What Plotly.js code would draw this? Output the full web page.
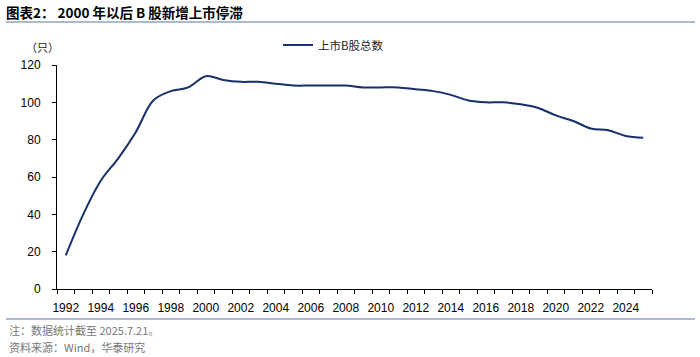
<!DOCTYPE html>
<html>
<head>
<meta charset="utf-8">
<script src="https://cdn.plot.ly/plotly-3.0.1.min.js"></script>
<style>html,body{margin:0;padding:0;background:#fff;}#chart{width:700px;height:357px;}</style>
</head>
<body>
<div id="chart"></div>
<script>
const years = [1992,1993,1994,1995,1996,1997,1998,1999,2000,2001,2002,2003,2004,2005,2006,2007,2008,2009,2010,2011,2012,2013,2014,2015,2016,2017,2018,2019,2020,2021,2022,2023,2024,2025];
const bShareCount = [18,40,58,70,84,101,106,108,114,112,111,111,110,109,109,109,109,108,108,108,107,106,104,101,100,100,99,97,93,90,86,85,82,81];
const tickYears = [1992,1994,1996,1998,2000,2002,2004,2006,2008,2010,2012,2014,2016,2018,2020,2022,2024];
const seriesName = '上市B股总数';
const titleText = '<b>图表2： 2000 年以后 B 股新增上市停滞</b>';
const unitText = '（只）';
const noteText = '注：数据统计截至 2025.7.21。';
const sourceText = '资料来源：Wind，华泰研究';

const W = 700, H = 357;
const L = 57, R = 652, T = 65, B = 289;
const pw = R - L, ph = B - T;
const px = x => (x - L) / pw;
const py = y => (B - y) / ph;

const boundaries = years.map(y => y - 0.5).concat([years[years.length - 1] + 0.5]);
const font = 'Liberation Sans, Arial, Noto Sans CJK SC, sans-serif';
const cjk = 'Noto Sans CJK SC, Liberation Sans, sans-serif';

const trace = {
  x: years, y: bShareCount, type: 'scatter', mode: 'lines', name: seriesName,
  line: {color: '#15306B', width: 2, shape: 'spline', smoothing: 1},
  hoverinfo: 'x+y'
};

const layout = {
  width: W, height: H,
  margin: {l: L, r: W - R, t: T, b: H - B, pad: 0},
  paper_bgcolor: '#fff', plot_bgcolor: '#fff',
  font: {family: font, size: 12, color: '#000'},
  showlegend: true,
  legend: {orientation: 'h', x: px(278), y: py(45), xanchor: 'left', yanchor: 'middle',
    font: {family: cjk, size: 11.5, color: '#222'}, itemwidth: 30, bgcolor: 'rgba(0,0,0,0)'},
  title: {text: titleText, xref: 'container', yref: 'container', x: 6 / W, xanchor: 'left',
    y: 1 - 13 / H, yanchor: 'middle', font: {family: cjk, size: 13.5, color: '#000'}},
  xaxis: {
    range: [years[0] - 0.5, years[years.length - 1] + 0.5],
    tickmode: 'array', tickvals: tickYears, ticktext: tickYears.map(String),
    ticks: '', showgrid: false, zeroline: false,
    showline: true, linecolor: '#000', linewidth: 1,
    ticklabelstandoff: 8,
    tickfont: {family: font, size: 12, color: '#000'},
    minor: {tickmode: 'array', tickvals: boundaries, ticks: 'outside', ticklen: 4, tickcolor: '#000', tickwidth: 1, showgrid: false},
    fixedrange: true
  },
  yaxis: {
    range: [0, 120], tickmode: 'linear', tick0: 0, dtick: 20,
    ticks: 'outside', ticklen: 4, tickcolor: '#000', tickwidth: 1,
    showgrid: false, zeroline: false,
    showline: true, linecolor: '#000', linewidth: 1,
    ticklabelstandoff: 9,
    tickfont: {family: font, size: 12, color: '#000'},
    fixedrange: true
  },
  shapes: [
    {type: 'line', xref: 'paper', yref: 'paper', x0: px(6), x1: px(695), y0: py(22), y1: py(22), line: {color: '#8EA4C0', width: 1.5}},
    {type: 'line', xref: 'paper', yref: 'paper', x0: px(6), x1: px(695), y0: py(319), y1: py(319), line: {color: '#8EA4C0', width: 1.5}}
  ],
  annotations: [
    {text: unitText, xref: 'paper', yref: 'paper', x: px(61), y: py(47), xanchor: 'right', yanchor: 'middle', showarrow: false, font: {family: cjk, size: 11, color: '#222'}},
    {text: noteText, xref: 'paper', yref: 'paper', x: px(7), y: py(330), xanchor: 'left', yanchor: 'middle', showarrow: false, font: {family: cjk, size: 11, color: '#777'}},
    {text: sourceText, xref: 'paper', yref: 'paper', x: px(7), y: py(347), xanchor: 'left', yanchor: 'middle', showarrow: false, font: {family: cjk, size: 11, color: '#777'}}
  ]
};

Plotly.newPlot('chart', [trace], layout, {displayModeBar: false, staticPlot: true});
</script>
</body>
</html>
